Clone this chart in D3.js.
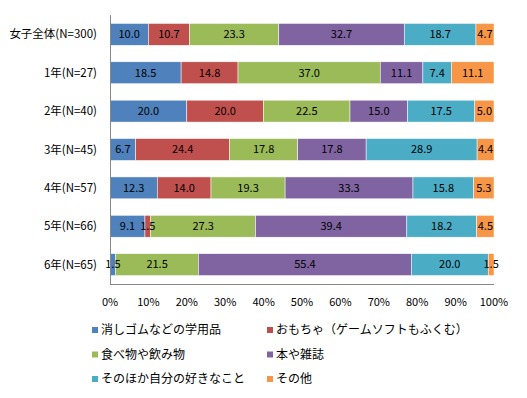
<!DOCTYPE html>
<html><head><meta charset="UTF-8">
<script src="https://cdn.jsdelivr.net/npm/d3@7"></script>
<style>
body { margin: 0; background: #fff; }
text { font-family: "Noto Sans CJK JP", "DejaVu Sans", sans-serif; }
</style>
</head>
<body>
<svg width="527" height="398"></svg>
<script>
const groups = ["女子全体(N=300)", "1年(N=27)", "2年(N=40)", "3年(N=45)", "4年(N=57)", "5年(N=66)", "6年(N=65)"];
const seriesNames = ["消しゴムなどの学用品", "おもちゃ（ゲームソフトもふくむ）", "食べ物や飲み物", "本や雑誌", "そのほか自分の好きなこと", "その他"];
const colors = ["#4F81BD", "#C0504D", "#9BBB59", "#8064A2", "#4BACC6", "#F79646"];
const school = [10.0, 18.5, 20.0, 6.7, 12.3, 9.1, 1.5];
const toys = [10.7, 14.8, 20.0, 24.4, 14.0, 1.5, 0];
const food = [23.3, 37.0, 22.5, 17.8, 19.3, 27.3, 21.5];
const books = [32.7, 11.1, 15.0, 17.8, 33.3, 39.4, 55.4];
const hobby = [18.7, 7.4, 17.5, 28.9, 15.8, 18.2, 20.0];
const other = [4.7, 11.1, 5.0, 4.4, 5.3, 4.5, 1.5];
const tickLabels = ["0%", "10%", "20%", "30%", "40%", "50%", "60%", "70%", "80%", "90%", "100%"];

const series = [school, toys, food, books, hobby, other];
const rows = groups.map((g, i) => {
  const r = { group: g };
  series.forEach((s, j) => r["s" + j] = s[i]);
  return r;
});
const keys = series.map((s, j) => "s" + j);
// 100% stacked: each row is scaled to its own total
const stacked = d3.stack().keys(keys).offset(d3.stackOffsetExpand)(rows);

const svg = d3.select("svg");
const x = d3.scaleLinear().domain([0, 1]).range([110, 494]);
const y = d3.scaleBand().domain(groups).range([15, 284]).paddingInner(0.43).paddingOuter(0.22);

const segs = [];
stacked.forEach((layer, j) => layer.forEach((v, i) => {
  segs.push({ j: j, group: v.data.group, x0: v[0], x1: v[1], val: series[j][i] });
}));

svg.append("g").selectAll("rect")
  .data(segs).enter().append("rect")
  .attr("x", d => x(d.x0))
  .attr("y", d => y(d.group))
  .attr("width", d => x(d.x1) - x(d.x0))
  .attr("height", y.bandwidth())
  .attr("fill", d => colors[d.j])
  .attr("stroke", "#fff")
  .attr("stroke-width", 0.5);

svg.append("g").selectAll("text")
  .data(segs.filter(d => d.val > 0)).enter().append("text")
  .attr("x", d => (x(d.x0) + x(d.x1)) / 2)
  .attr("y", d => y(d.group) + y.bandwidth() / 2)
  .attr("dy", "0.35em")
  .attr("text-anchor", "middle")
  .attr("fill", "#000")
  .style("font-size", "11px")
  .text(d => d.val.toFixed(1));

// axes
svg.append("line").attr("x1", 110.5).attr("x2", 110.5).attr("y1", 15).attr("y2", 284.5)
  .attr("stroke", "#888");
svg.append("line").attr("x1", 110).attr("x2", 494).attr("y1", 284.5).attr("y2", 284.5)
  .attr("stroke", "#888");

svg.append("g").selectAll("text")
  .data(groups).enter().append("text")
  .attr("x", 97)
  .attr("y", d => y(d) + y.bandwidth() / 2)
  .attr("dy", "0.35em")
  .attr("text-anchor", "end")
  .style("font-size", "11.5px")
  .text(d => d);

svg.append("g").selectAll("text")
  .data(tickLabels).enter().append("text")
  .attr("x", (d, i) => x(i / 10))
  .attr("y", 302)
  .attr("dy", "0.35em")
  .attr("text-anchor", "middle")
  .style("font-size", "11px")
  .text(d => d);

// legend
const legend = svg.append("g").selectAll("g")
  .data(seriesNames).enter().append("g")
  .attr("transform", (d, i) => "translate(" + (i % 2 === 0 ? 92 : 267) + "," + (330 + Math.floor(i / 2) * 24.5) + ")");
legend.append("rect").attr("x", 0).attr("y", -3).attr("width", 6).attr("height", 6)
  .attr("fill", (d, i) => colors[i]);
legend.append("text").attr("x", 9).attr("dy", "0.35em")
  .style("font-size", "12px").text(d => d);
</script>
</body></html>
